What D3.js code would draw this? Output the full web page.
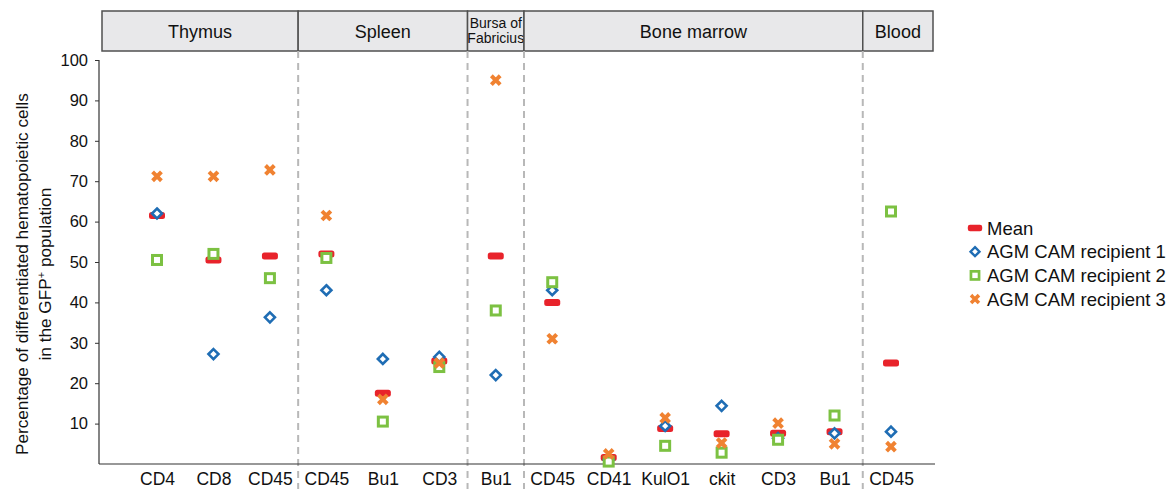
<!DOCTYPE html>
<html>
<head>
<meta charset="utf-8">
<script src="https://cdn.jsdelivr.net/npm/d3@7"></script>
<style>
  body { margin: 0; background: #fff; }
  svg { font-family: Arial, "Liberation Sans", sans-serif; }
</style>
</head>
<body>
<svg width="1172" height="489"></svg>
<script>
// markers along the x axis
var markers = ["CD4", "CD8", "CD45", "CD45", "Bu1", "CD3", "Bu1", "CD45", "CD41", "KulO1", "ckit", "CD3", "Bu1", "CD45"];
// tissue groups: name and index range of markers
var groups = [
  { name: ["Thymus"], from: 0, to: 2 },
  { name: ["Spleen"], from: 3, to: 5 },
  { name: ["Bursa of", "Fabricius"], from: 6, to: 6 },
  { name: ["Bone marrow"], from: 7, to: 12 },
  { name: ["Blood"], from: 13, to: 13 }
];
var meanValues = [61.5, 50.5, 51.5, 52, 17.5, 25.5, 51.5, 40, 1.6, 8.8, 7.5, 7.6, 8, 25];
var recipient1 = [62, 27.2, 36.3, 43, 26, 26.5, 22, 43, 1, 9.4, 14.4, 6.4, 7.6, 8];
var recipient2 = [50.5, 52, 46, 51, 10.5, 24, 38, 45, 0.6, 4.5, 2.8, 6, 12, 62.5];
var recipient3 = [71.2, 71.2, 72.8, 61.5, 16, 25, 95, 31, 2.5, 11.4, 5.2, 10.1, 5, 4.3];
var yTicks = [10, 20, 30, 40, 50, 60, 70, 80, 90, 100];
var legendLabels = ["Mean", "AGM CAM recipient 1", "AGM CAM recipient 2", "AGM CAM recipient 3"];

var svg = d3.select("svg");
var axisX = 99, axisRight = 935;

var x = d3.scalePoint()
    .domain(d3.range(markers.length))
    .range([157, 891]);
var step = x.step();
var y = d3.scaleLinear().domain([0, 100]).range([464, 60]);

// header boxes
var boxTop = 11, boxBottom = 51;
function groupLeft(g) { return g.from === 0 ? 102 : x(g.from) - step / 2; }
function groupRight(g) { return g.to === markers.length - 1 ? 933 : x(g.to) + step / 2; }

var hdr = svg.selectAll(".hdr").data(groups).enter().append("g").attr("class", "hdr");
hdr.append("rect")
    .attr("x", groupLeft)
    .attr("y", boxTop)
    .attr("width", g => groupRight(g) - groupLeft(g))
    .attr("height", boxBottom - boxTop)
    .attr("fill", "#e8e8ea")
    .attr("stroke", "#505050")
    .attr("stroke-width", 1.5);
hdr.each(function(g) {
  var cx = (groupLeft(g) + groupRight(g)) / 2;
  var t = d3.select(this).append("text")
      .attr("text-anchor", "middle")
      .attr("fill", "#111");
  if (g.name.length === 1) {
    t.attr("x", cx).attr("y", 38).attr("font-size", 18).text(g.name[0]);
  } else {
    t.attr("font-size", 14);
    g.name.forEach((s, i) => t.append("tspan").attr("x", cx).attr("y", 28 + i * 15).text(s));
  }
});

// dashed separators between groups
svg.selectAll(".sep").data(groups.slice(1)).enter().append("line")
    .attr("x1", g => x(g.from) - step / 2)
    .attr("x2", g => x(g.from) - step / 2)
    .attr("y1", boxBottom)
    .attr("y2", 489)
    .attr("stroke", "#b8b8b8")
    .attr("stroke-width", 2)
    .attr("stroke-dasharray", "7,5");

// y axis
var yAxis = svg.append("g")
    .attr("transform", `translate(${axisX},0)`)
    .call(d3.axisLeft(y).tickValues(yTicks).tickSize(4).tickPadding(7));
yAxis.select(".domain").attr("d", `M0,${y(100)}V${y(0)}`).attr("stroke", "#333").attr("stroke-width", 1.2);
yAxis.selectAll(".tick line").attr("stroke", "#333");
yAxis.selectAll(".tick text").attr("font-size", 16.5).attr("fill", "#111").attr("font-family", "Arial, 'Liberation Sans', sans-serif");

// x axis
var xAxis = svg.append("g")
    .attr("transform", `translate(0,${y(0)})`)
    .call(d3.axisBottom(x).tickFormat(i => markers[i]).tickSize(0).tickPadding(9));
xAxis.select(".domain").attr("d", `M${axisX},0H${axisRight}`).attr("stroke", "#333").attr("stroke-width", 1.2);
xAxis.selectAll(".tick text").attr("font-size", 17.5).attr("fill", "#111").attr("font-family", "Arial, 'Liberation Sans', sans-serif");

// y axis title
var title = svg.append("text")
    .attr("transform", `translate(28,${y(47)}) rotate(-90)`)
    .attr("text-anchor", "middle")
    .attr("font-size", 17.2)
    .attr("fill", "#111");
title.append("tspan").attr("x", 0).attr("y", 0).text("Percentage of differentiated hematopoietic cells");
var t2 = title.append("tspan").attr("x", 0).attr("y", 23).text("in the GFP");
t2.append("tspan").attr("font-size", 11).attr("dy", -6).text("+");
t2.append("tspan").attr("dy", 6).text(" population");

// marker drawing helpers
var colors = { mean: "#e8232b", r1: "#1f6db4", r2: "#7cc142", r3: "#f08231" };
function drawMean(sel) {
  sel.append("rect").attr("x", -8).attr("y", -3.5).attr("width", 16).attr("height", 7)
      .attr("rx", 2.5).attr("fill", colors.mean);
}
function drawDiamond(sel) {
  sel.append("path").attr("d", "M0,-5L5,0L0,5L-5,0Z")
      .attr("fill", "#fff").attr("stroke", colors.r1).attr("stroke-width", 2.6);
}
function drawSquare(sel) {
  sel.append("rect").attr("x", -4.5).attr("y", -4.5).attr("width", 9).attr("height", 9)
      .attr("fill", "#fff").attr("stroke", colors.r2).attr("stroke-width", 3);
}
function drawX(sel) {
  sel.append("path").attr("d", "M-3,-3L3,3M3,-3L-3,3")
      .attr("fill", "none").attr("stroke", colors.r3).attr("stroke-width", 4).attr("stroke-linecap", "square");
}

var series = [
  { values: meanValues, draw: drawMean },
  { values: recipient1, draw: drawDiamond },
  { values: recipient2, draw: drawSquare },
  { values: recipient3, draw: drawX }
];
series.forEach(s => {
  svg.append("g").selectAll("g").data(s.values).enter().append("g")
      .attr("transform", (v, i) => `translate(${x(i)},${y(v)})`)
      .call(s.draw);
});

// legend
var legend = svg.append("g").attr("transform", "translate(975,228)");
var items = legend.selectAll("g").data(legendLabels).enter().append("g")
    .attr("transform", (d, i) => `translate(0,${i * 23.7})`);
items.each(function(d, i) {
  var g = d3.select(this);
  var m = g.append("g").attr("transform", "scale(0.9)");
  series[i].draw(m);
  g.append("text").attr("x", 12).attr("y", 6.5).attr("font-size", 18.5).attr("fill", "#111").text(d);
});
</script>
</body>
</html>
